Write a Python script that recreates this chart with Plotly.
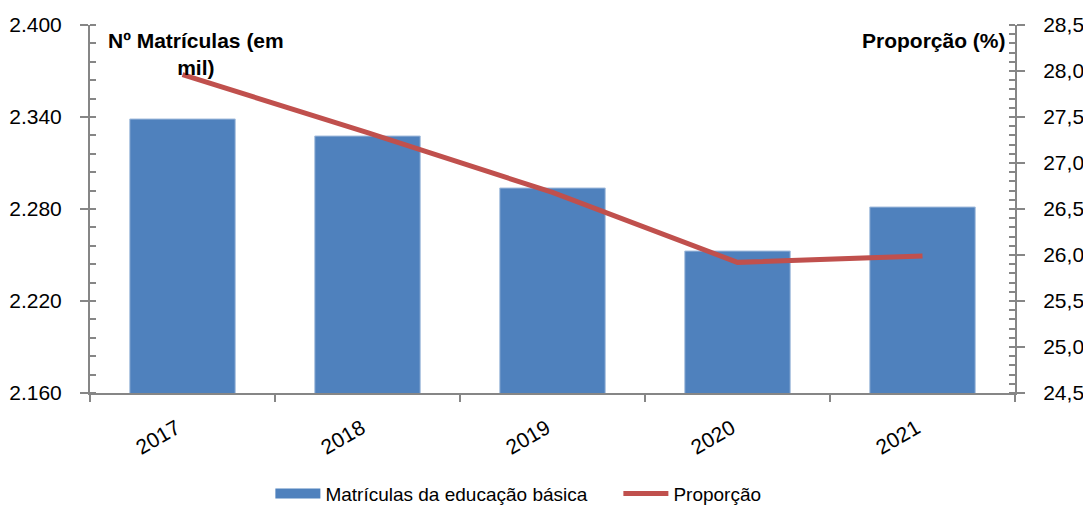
import plotly.graph_objects as go

years = ["2017", "2018", "2019", "2020", "2021"]
matriculas = [2.3387, 2.3276, 2.2937, 2.2526, 2.2813]
proporcao = [27.96, 27.33, 26.68, 25.92, 25.99]
left_ticks = [2.160, 2.220, 2.280, 2.340, 2.400]
left_labels = ["2.160", "2.220", "2.280", "2.340", "2.400"]
right_ticks = [24.5, 25.0, 25.5, 26.0, 26.5, 27.0, 27.5, 28.0, 28.5]
right_labels = ["24,5", "25,0", "25,5", "26,0", "26,5", "27,0", "27,5", "28,0", "28,5"]

FONT = "Liberation Sans, Arial, sans-serif"
AX = "#868686"
BLUE = "#4F81BD"

fig = go.Figure()
fig.add_trace(go.Bar(x=years, y=matriculas, name="Matrículas da educação básica",
                     marker=dict(color=BLUE, line=dict(color="#A7BFDE", width=1)),
                     width=0.57, yaxis="y", showlegend=False))
# legend entry drawn as a wide blue rectangle like the original
fig.add_trace(go.Scatter(x=[None], y=[None], name="Matrículas da educação básica",
                         mode="lines", line=dict(color=BLUE, width=14), yaxis="y",
                         showlegend=True))
fig.add_trace(go.Scatter(x=years, y=proporcao, name="Proporção", mode="lines",
                         line=dict(color="#C0504D", width=5), yaxis="y2"))

fig.update_layout(
    width=1091, height=506,
    margin=dict(l=82, r=84, t=17, b=121),
    plot_bgcolor="white", paper_bgcolor="white",
    font=dict(family=FONT, size=21, color="black"),
    showlegend=True,
    legend=dict(orientation="h", x=0.195, xanchor="left",
                yref="container", y=0.04, yanchor="middle",
                font=dict(family=FONT, size=19), itemwidth=45, tracegroupgap=0,
                entrywidth=288, entrywidthmode="pixels",
                traceorder="normal"),
    xaxis=dict(type="category", showline=True, linecolor=AX, linewidth=2,
               ticks="outside", tickson="boundaries", ticklen=7, tickcolor=AX, tickwidth=2,
               tickangle=-30, tickfont=dict(size=21), showgrid=False, automargin=False,
               ticklabelstandoff=13, ticklabelshift=-6),
    yaxis=dict(range=[2.160, 2.400], tickvals=left_ticks, ticktext=left_labels,
               showline=True, linecolor=AX, linewidth=2, ticks="outside", ticklen=8,
               tickcolor=AX, tickwidth=2, showgrid=False, zeroline=False,
               tickfont=dict(size=21), automargin=False, ticklabelstandoff=14,
               minor=dict(dtick=0.012, tick0=2.160, ticks="inside", ticklen=6,
                          tickcolor=AX, tickwidth=2)),
    yaxis2=dict(range=[24.5, 28.5], tickvals=right_ticks, ticktext=right_labels,
                overlaying="y", side="right", showline=True, linecolor=AX, linewidth=2,
                ticks="outside", ticklen=8, tickcolor=AX, tickwidth=2, showgrid=False,
                zeroline=False, tickfont=dict(size=21), automargin=False,
                ticklabelstandoff=14,
                minor=dict(dtick=0.1, tick0=24.5, ticks="inside", ticklen=6,
                           tickcolor=AX, tickwidth=2)),
)

fig.add_annotation(text="<b>Nº Matrículas (em<br>mil)</b>", xref="paper", yref="paper",
                   x=0.1146, y=0.995, xanchor="center", yanchor="top", showarrow=False,
                   font=dict(family=FONT, size=21), align="center")
fig.add_annotation(text="<b>Proporção (%)</b>", xref="paper", yref="paper",
                   x=0.992, y=0.995, xanchor="right", yanchor="top", showarrow=False,
                   font=dict(family=FONT, size=21), align="right")

fig.write_html("out.html")
